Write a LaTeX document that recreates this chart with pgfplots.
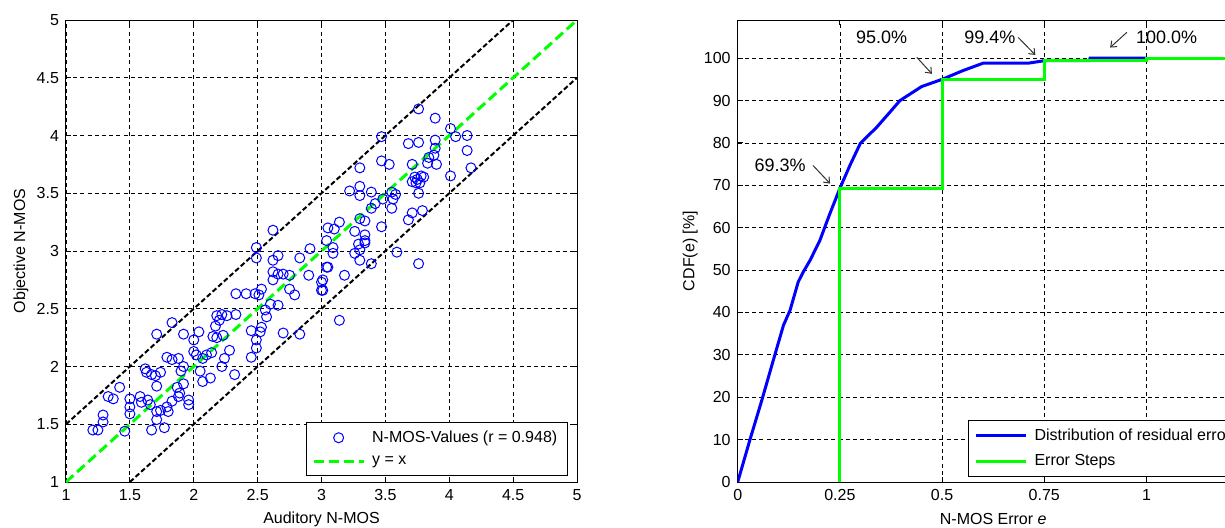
\documentclass[border=0pt]{standalone}
\usepackage{fontspec}
\setmainfont{Liberation Sans}
\usepackage{pgfplots}
\pgfplotsset{compat=1.18}
\usetikzlibrary{arrows.meta}
\definecolor{mblue}{rgb}{0,0,1}
\definecolor{mgreen}{rgb}{0,1,0}
\pgfplotsset{
 markleg/.style={legend image code/.code={\path[draw=none,fill=none] (0pt,0pt) rectangle (26.5pt,0.1pt);\draw[##1] plot coordinates {(12.5pt,0pt)};}},
 mystyle/.style={
  scale only axis, width=255.5pt, height=231pt,
  axis line style={line width=0.5pt, black},
  every tick/.style={black, line width=0.5pt},
  major tick length=2.5pt,
  tick align=inside,
  grid=major,
  major grid style={black, line width=0.4pt, dash pattern=on 2pt off 1.6pt},
  tick label style={font=\fontsize{8}{9.6}\selectfont},
  label style={font=\fontsize{8}{9.6}\selectfont},
  /pgf/number format/assume math mode=true,
  legend style={font=\fontsize{8}{9.6}\selectfont, draw=black, line width=0.5pt, inner xsep=3pt, inner ysep=2pt, row sep=1.5pt},
  legend cell align=left,
  legend image code/.code={\draw[##1] (0pt,0pt) -- (25pt,0pt);\path (26.5pt,0pt);},
  xlabel style={at={(axis description cs:0.5,-0.08)}, anchor=center},
 }
}
\begin{document}
\begin{tikzpicture}
\useasboundingbox (0,0) rectangle (612.5pt,263.5pt);
\begin{axis}[mystyle, at={(33pt,22.5pt)}, anchor=south west,
 xmin=1, xmax=5, ymin=1, ymax=5,
 xtick={1,1.5,2,2.5,3,3.5,4,4.5,5}, ytick={1,1.5,2,2.5,3,3.5,4,4.5,5},
 xlabel={Auditory N-MOS}, ylabel={Objective N-MOS},
 ylabel style={at={(axis description cs:-0.088,0.5)}, anchor=center},
 legend style={at={(axis description cs:0.469,0.013)}, anchor=south west},
]
\addplot[only marks, mark=o, mark size=2.5pt, mblue, mark options={line width=0.5pt}, markleg] coordinates {
(2.49,3.03)(2.49,2.94)(2.66,2.96)(2.62,2.92)(2.83,2.94)(2.91,3.02)(3.04,2.86)
(2.62,2.82)(2.66,2.80)(2.70,2.80)(2.75,2.79)(2.90,2.79)(3.00,2.73)(3.00,2.66)
(2.62,2.75)(2.75,2.67)(2.79,2.62)(2.53,2.67)(2.51,2.62)(2.33,2.63)(2.41,2.63)(2.48,2.63)
(2.60,2.54)(2.66,2.53)(2.56,2.49)(2.57,2.43)
(2.18,2.44)(2.22,2.45)(2.26,2.44)(2.20,2.40)(2.33,2.45)
(2.45,2.31)(2.52,2.30)(2.49,2.23)(2.49,2.16)(2.53,2.34)(2.45,2.08)
(2.70,2.29)(2.83,2.28)
(1.83,2.38)(1.71,2.28)(1.92,2.28)(2.04,2.30)(2.00,2.23)(2.00,2.13)
(2.17,2.35)(2.15,2.26)(2.18,2.25)(2.23,2.27)
(2.28,2.14)(2.24,2.07)(2.22,2.00)
(2.14,2.12)(2.10,2.10)(2.07,2.07)(2.02,2.10)
(2.05,1.96)(2.07,1.87)(2.13,1.90)(2.32,1.93)
(1.79,2.08)(1.83,2.06)(1.88,2.07)(1.92,2.00)
(1.62,1.98)(1.63,1.95)(1.67,1.93)(1.74,1.95)(1.70,1.92)
(1.71,1.83)(1.90,1.96)(1.92,1.85)(1.87,1.82)
(1.42,1.82)(1.33,1.74)(1.37,1.72)
(1.50,1.72)(1.50,1.65)(1.50,1.59)
(1.58,1.74)(1.59,1.69)(1.64,1.71)(1.66,1.67)
(1.71,1.61)(1.74,1.62)(1.79,1.65)(1.80,1.61)
(1.71,1.54)(1.77,1.47)(1.67,1.45)
(1.83,1.70)(1.88,1.74)(1.96,1.71)(1.96,1.67)(1.89,1.77)
(1.29,1.58)(1.29,1.52)(1.21,1.45)(1.25,1.45)(1.46,1.44)
(3.76,4.23)(3.89,4.15)(4.01,4.06)(4.05,3.99)(4.14,4.00)(4.14,3.87)(4.17,3.72)(4.01,3.65)
(3.47,3.99)(3.68,3.93)(3.76,3.94)
(3.89,3.96)(3.89,3.89)(3.88,3.83)(3.84,3.81)(3.83,3.76)(3.90,3.75)
(3.47,3.78)(3.53,3.75)(3.30,3.72)(3.71,3.75)
(3.73,3.64)(3.75,3.62)(3.78,3.65)(3.80,3.64)(3.71,3.60)(3.74,3.59)(3.77,3.59)(3.76,3.50)
(3.22,3.52)(3.30,3.56)(3.30,3.48)(3.39,3.51)
(3.55,3.51)(3.58,3.49)(3.56,3.45)(3.48,3.45)(3.42,3.41)(3.39,3.37)(3.55,3.37)
(3.71,3.33)(3.79,3.35)(3.68,3.27)
(3.14,3.25)(3.10,3.19)(3.04,3.09)
(3.30,3.28)(3.34,3.26)(3.26,3.17)(3.34,3.14)(3.34,3.09)(3.29,3.06)
(3.47,3.21)(3.09,3.03)
(3.34,3.07)(3.30,3.01)(3.26,2.98)(3.30,2.92)(3.09,2.98)(3.05,2.86)(3.01,2.75)(3.01,2.66)
(3.18,2.79)(3.39,2.89)(3.59,2.99)(3.76,2.89)(3.14,2.40)
(2.62,3.18)(3.05,3.20)
};
\addlegendentry{N-MOS-Values (r = 0.948)}
\addplot[black, line width=1pt, dash pattern=on 2.5pt off 1.3pt, forget plot] coordinates {(1,1.5)(4.5,5)};
\addplot[black, line width=1pt, dash pattern=on 2.5pt off 1.3pt, forget plot] coordinates {(1.5,1)(5,4.5)};
\addplot[mgreen, line width=1.5pt, dash pattern=on 5pt off 2.5pt] coordinates {(1,1)(5,5)};
\addlegendentry{y = x}
\end{axis}

\begin{axis}[mystyle, at={(368.85pt,22.5pt)}, anchor=south west,
 xmin=0, xmax=1.25, ymin=0, ymax=109,
 xtick={0,0.25,0.5,0.75,1}, ytick={0,10,20,30,40,50,60,70,80,90,100},
 xlabel={N-MOS Error \textit{e}}, ylabel={CDF(e) [\%]},
 ylabel style={at={(axis description cs:-0.093,0.5)}, anchor=center},
 legend style={at={(axis description cs:0.4507,0.011)}, anchor=south west},
]
\addplot[mblue, line width=1.5pt] coordinates {
(0,0)(0.03,10)(0.059,19.3)(0.087,28.7)(0.112,37)(0.128,40.5)(0.148,47.2)(0.16,49.5)
(0.177,52.3)(0.201,57)(0.225,63.2)(0.25,69.3)(0.275,74.8)(0.30,79.9)(0.34,83.7)(0.37,87)
(0.397,90)(0.45,93.3)(0.50,95.0)(0.552,97.1)(0.60,98.8)(0.71,98.8)(0.75,99.4)(0.86,99.4)
(0.862,100)(1.0,100)
};
\addlegendentry{Distribution of residual errors}
\addplot[mgreen, line width=1.5pt] coordinates {
(0.25,0)(0.25,69.3)(0.5,69.3)(0.5,95)(0.75,95)(0.75,99.4)(1,99.4)(1,100)(1.25,100)
};
\addlegendentry{Error Steps}
\begin{scope}[font=\fontsize{9}{10}\selectfont]
\node at (axis cs:0.1035,74.7) {69.3\%};
\node at (axis cs:0.352,104.9) {95.0\%};
\node at (axis cs:0.617,104.9) {99.4\%};
\node at (axis cs:1.049,104.9) {100.0\%};
\end{scope}
\begin{scope}[line width=0.5pt, black!80, -{Straight Barb[length=2.5pt,width=4pt]}]
\draw (axis cs:0.184,74.7) -- (axis cs:0.226,70.4);
\draw (axis cs:0.438,100.2) -- (axis cs:0.475,96.3);
\draw (axis cs:0.686,104.9) -- (axis cs:0.728,100.75);
\draw (axis cs:0.952,106.1) -- (axis cs:0.911,102.5);
\end{scope}
\end{axis}
\end{tikzpicture}
\end{document}
